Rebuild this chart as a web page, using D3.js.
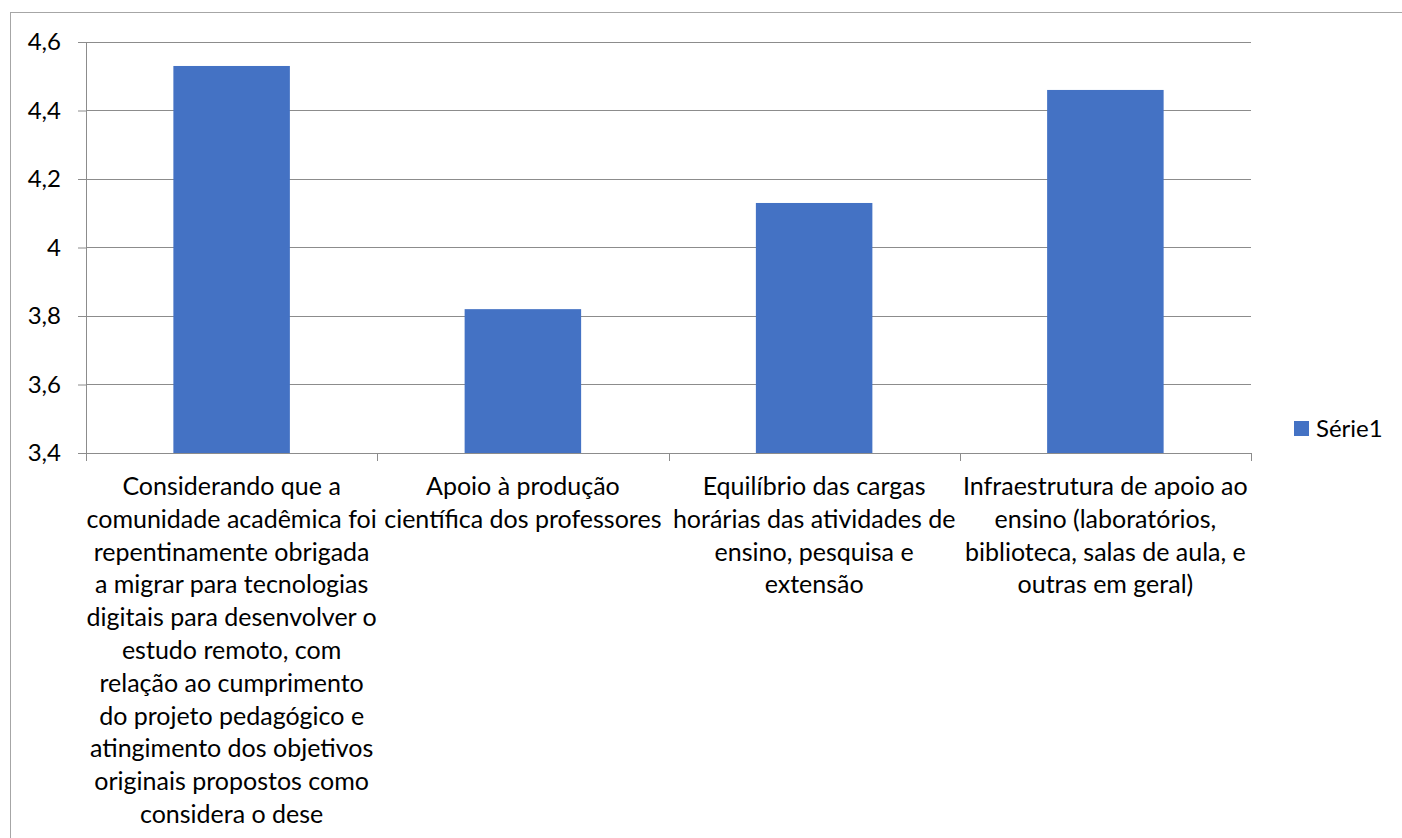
<!DOCTYPE html>
<html>
<head>
<meta charset="utf-8">
<script src="https://cdn.jsdelivr.net/npm/d3@7"></script>
<style>
  html, body { margin: 0; padding: 0; background: #fff; }
  svg { display: block; }
  text { font-family: Lato, "Noto Sans", sans-serif; fill: #000; }
</style>
</head>
<body>
<script>
// ---- Data ----
const categories = [
  "Considerando que a\ncomunidade acadêmica foi\nrepentinamente obrigada\na migrar para tecnologias\ndigitais para desenvolver o\nestudo remoto, com\nrelação ao cumprimento\ndo projeto pedagógico e\natingimento dos objetivos\noriginais propostos como\nconsidera o dese",
  "Apoio à produção\ncientífica dos professores",
  "Equilíbrio das cargas\nhorárias das atividades de\nensino, pesquisa e\nextensão",
  "Infraestrutura de apoio ao\nensino (laboratórios,\nbiblioteca, salas de aula, e\noutras em geral)"
];
const values = [4.53, 3.82, 4.13, 4.46];
const seriesName = "Série1";
const yTicks = [3.4, 3.6, 3.8, 4.0, 4.2, 4.4, 4.6];
const yDomain = [3.4, 4.6];

// ---- Layout ----
const W = 1402, H = 838;
const plot = { left: 86, right: 1251, top: 42, bottom: 453 };
const fontSize = 24;
const catFontSize = 25;
const lineH = 32.8;

const svg = d3.select("body").append("svg").attr("width", W).attr("height", H);

// outer chart frame (extends beyond the picture on right and bottom)
svg.append("rect")
  .attr("x", 10.5).attr("y", 12.5)
  .attr("width", W + 20).attr("height", H + 20)
  .attr("fill", "none").attr("stroke", "#a6a6a6").attr("stroke-width", 1);

const x = d3.scaleBand().domain(categories).range([plot.left, plot.right])
  .paddingInner(0.6).paddingOuter(0.3);
const y = d3.scaleLinear().domain(yDomain).range([plot.bottom, plot.top]);

const ptFmt = d3.formatLocale({ decimal: ",", thousands: ".", grouping: [3], currency: ["", ""] }).format("~g");

// y tick marks + labels
const yAxis = svg.append("g")
  .attr("transform", `translate(${plot.left},0)`)
  .call(d3.axisLeft(y).tickValues(yTicks).tickFormat(ptFmt)
        .tickSize(8).tickPadding(17));
yAxis.select(".domain").remove();
yAxis.selectAll(".tick line").attr("stroke", "#8c8c8c");
yAxis.selectAll(".tick text").attr("font-size", fontSize).attr("font-family", "Lato");

// gridlines
const grid = svg.append("g");
grid.selectAll("line").data(yTicks).join("line")
  .attr("x1", plot.left).attr("x2", plot.right)
  .attr("y1", d => Math.round(y(d)) + 0.5).attr("y2", d => Math.round(y(d)) + 0.5)
  .attr("stroke", "#8c8c8c").attr("stroke-width", 1);

// bars
svg.append("g").selectAll("rect").data(values).join("rect")
  .attr("x", (d, i) => x(categories[i]))
  .attr("width", x.bandwidth())
  .attr("y", d => y(d))
  .attr("height", d => y(yDomain[0]) - y(d))
  .attr("fill", "#4472c4");

// vertical axis line
svg.append("line")
  .attr("x1", plot.left + 0.5).attr("x2", plot.left + 0.5)
  .attr("y1", plot.top).attr("y2", plot.bottom + 8)
  .attr("stroke", "#8c8c8c");

// category axis tick marks at band boundaries
const bounds = d3.range(categories.length + 1).map(i => plot.left + i * x.step());
svg.append("g").selectAll("line").data(bounds).join("line")
  .attr("x1", d => Math.round(d) + 0.5).attr("x2", d => Math.round(d) + 0.5)
  .attr("y1", plot.bottom).attr("y2", plot.bottom + 8)
  .attr("stroke", "#8c8c8c");

// category labels
const labels = svg.append("g").selectAll("text").data(categories).join("text")
  .attr("text-anchor", "middle")
  .attr("font-size", catFontSize)
  .attr("x", d => x(d) + x.bandwidth() / 2)
  .attr("y", 495);
labels.selectAll("tspan").data(d => d.split("\n")).join("tspan")
  .attr("x", function () { return this.parentNode.getAttribute("x"); })
  .attr("dy", (d, i) => i === 0 ? 0 : lineH)
  .text(d => d);

// legend
const lg = svg.append("g");
lg.append("rect").attr("x", 1294).attr("y", 421).attr("width", 15).attr("height", 15).attr("fill", "#4472c4");
lg.append("text").attr("x", 1316).attr("y", 437).attr("font-size", fontSize).text(seriesName);
</script>
</body>
</html>
